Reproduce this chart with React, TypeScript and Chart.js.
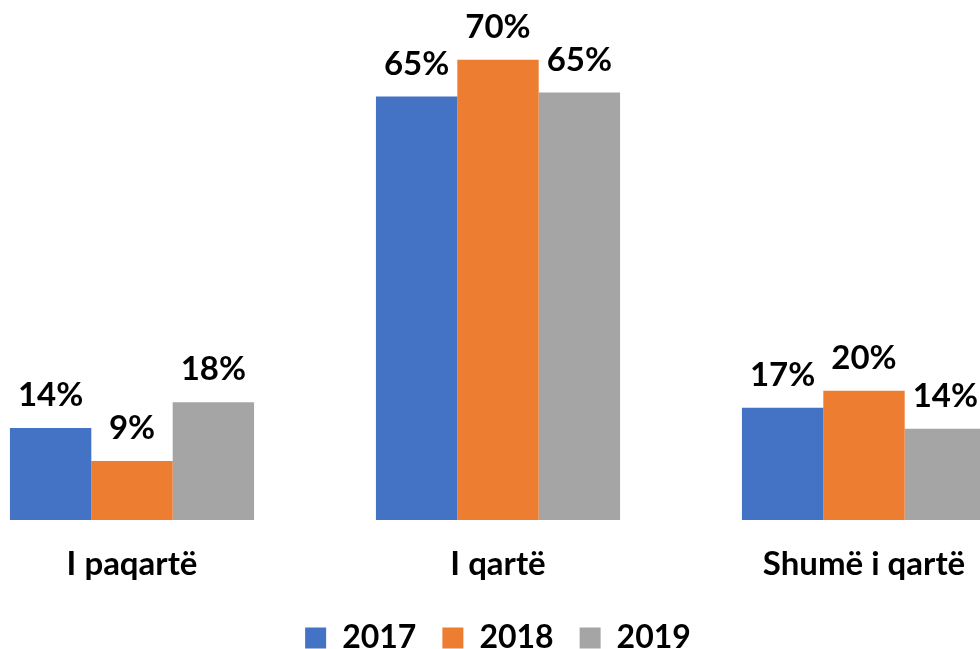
import React, { useEffect, useRef } from "react";
import { Chart, registerables } from "chart.js";

Chart.register(...registerables);

const categories = ["I paqartë", "I qartë", "Shumë i qartë"];
const seriesNames = ["2017", "2018", "2019"];
const values2017 = [14.0, 64.5, 17.1];
const values2018 = [9.0, 70.1, 19.7];
const values2019 = [17.95, 65.1, 13.9];
const colors = ["#4472C4", "#ED7D31", "#A5A5A5"];

const FONT = "Lato, 'Open Sans', sans-serif";

const labelPlugin = {
  id: "barLabels",
  afterDatasetsDraw(chart: any) {
    const ctx = chart.ctx;
    ctx.save();
    ctx.font = `bold 33px ${FONT}`;
    ctx.fillStyle = "#000";
    ctx.textAlign = "center";
    ctx.textBaseline = "alphabetic";
    chart.data.datasets.forEach((ds: any, di: number) => {
      const meta = chart.getDatasetMeta(di);
      meta.data.forEach((el: any, i: number) => {
        const v = ds.data[i] as number;
        ctx.fillText(`${Math.round(v)}%`, el.x, el.y - 22);
      });
    });
    ctx.restore();
  },
};

export default function App() {
  const ref = useRef<HTMLCanvasElement | null>(null);
  useEffect(() => {
    if (!ref.current) return;
    const chart = new Chart(ref.current, {
      type: "bar",
      data: {
        labels: categories,
        datasets: [values2017, values2018, values2019].map((d, i) => ({
          label: seriesNames[i],
          data: d,
          backgroundColor: colors[i],
          borderWidth: 0,
          barPercentage: 1,
          categoryPercentage: 0.667,
        })),
      },
      options: {
        responsive: false,
        animation: false,
        layout: { padding: 0 },
        plugins: {
          tooltip: { enabled: false },
          legend: {
            position: "bottom",
            labels: {
              boxWidth: 21,
              boxHeight: 21,
              padding: 26,
              color: "#000",
              font: { family: FONT, size: 32, weight: "bold" },
            },
          },
        },
        scales: {
          x: {
            grid: { display: false, drawTicks: false },
            border: { display: false },
            afterFit: (scale: any) => {
              scale.height = 76;
            },
            ticks: {
              color: "#000",
              padding: 25,
              autoSkip: false,
              maxRotation: 0,
              font: { family: FONT, size: 33, weight: "bold" },
            },
          },
          y: {
            display: false,
            min: 0,
            max: 79.2,
          },
        },
      },
      plugins: [labelPlugin],
    });
    return () => chart.destroy();
  }, []);
  return (
    <div
      style={{
        position: "fixed",
        left: 0,
        top: 0,
        width: 980,
        height: 649,
        overflow: "hidden",
        background: "#fff",
      }}
    >
      <canvas
        ref={ref}
        width={1098}
        height={664}
        style={{ position: "absolute", left: -51, top: 0, width: 1098, height: 664 }}
      />
    </div>
  );
}
